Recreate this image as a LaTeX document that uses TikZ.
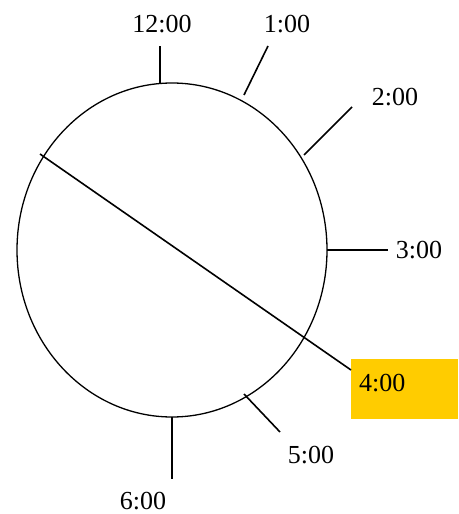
\documentclass[tikz,border=0pt]{standalone}
\usepackage{fontspec}
\setmainfont{Liberation Serif}
\definecolor{gold}{HTML}{FFCC00}
\begin{document}
\begin{tikzpicture}[x=1pt,y=-1pt,
  lbl/.style={inner sep=0pt, font=\fontsize{26}{30}\selectfont},
  tick/.style={line width=1.6pt},
  rim/.style={line width=1.3pt}]
\useasboundingbox (0,0) rectangle (458,514);
% clock face
\draw[rim] (172,250) ellipse [x radius=155, y radius=167];
% tick end points
\coordinate (t12a) at (160,83);  \coordinate (t12b) at (160,46);
\coordinate (t1a) at (244,95);   \coordinate (t1b) at (268,46);
\coordinate (t2a) at (304,155);  \coordinate (t2b) at (352,107);
\coordinate (t3a) at (327,250);  \coordinate (t3b) at (388,250);
\coordinate (t4a) at (40,154);   \coordinate (t4b) at (351,370);
\coordinate (t5a) at (244,394);  \coordinate (t5b) at (280,432);
\coordinate (t6a) at (172,417);  \coordinate (t6b) at (172,479);
% labels
\node[lbl] (l12) at (162,24) {12:00};
\node[lbl] (l1) at (287,24) {1:00};
\node[lbl] (l2) at (395,97) {2:00};
\node[lbl] (l3) at (419,250) {3:00};
\node[fill=gold, inner sep=0pt, minimum width=107pt, minimum height=60pt, anchor=north west] (four) at (351,359) {};
\node[lbl, anchor=west] (l4) at (359,383.5) {4:00};
\node[lbl] (l5) at (311,455) {5:00};
\node[lbl] (l6) at (143,501.5) {6:00};
% ticks
\draw[tick] (t12a) -- (t12b);
\draw[tick] (t1a) -- (t1b);
\draw[tick] (t2a) -- (t2b);
\draw[tick] (t3a) -- (t3b);
\draw[tick] (t4a) -- (t4b);
\draw[tick] (t5a) -- (t5b);
\draw[tick] (t6a) -- (t6b);
\end{tikzpicture}
\end{document}
